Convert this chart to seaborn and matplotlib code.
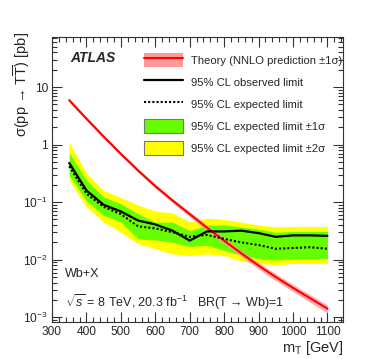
import numpy as np
import pandas as pd
import seaborn as sns
import matplotlib.pyplot as plt
from matplotlib.patches import Patch
from matplotlib.lines import Line2D
from matplotlib.ticker import MultipleLocator, LogLocator, FixedLocator, FixedFormatter, NullFormatter

# T mass points [GeV]
mass = [350, 400, 450, 500, 550, 600, 650, 700, 750, 800, 850, 900, 950, 1000, 1050, 1100]

# limits on sigma(pp -> TT) [pb]
observed = [0.48, 0.16, 0.09, 0.069, 0.048, 0.041, 0.032, 0.0215, 0.031, 0.031, 0.032, 0.029, 0.025, 0.0265, 0.0265, 0.026]
expected = [0.42, 0.14, 0.083, 0.062, 0.038, 0.035, 0.030, 0.025, 0.027, 0.023, 0.020, 0.018, 0.0155, 0.016, 0.0165, 0.0155]
green_hi = [0.72, 0.24, 0.123, 0.094, 0.063, 0.045, 0.045, 0.032, 0.040, 0.040, 0.037, 0.034, 0.030, 0.031, 0.031, 0.031]
green_lo = [0.29, 0.105, 0.059, 0.045, 0.023, 0.022, 0.020, 0.0170, 0.0178, 0.0145, 0.012, 0.0104, 0.0098, 0.0104, 0.0104, 0.0104]
yellow_hi = [1.1, 0.32, 0.16, 0.12, 0.09, 0.07, 0.065, 0.045, 0.053, 0.050, 0.045, 0.040, 0.037, 0.038, 0.038, 0.038]
yellow_lo = [0.24, 0.083, 0.045, 0.030, 0.019, 0.0155, 0.0126, 0.0118, 0.0126, 0.0118, 0.0095, 0.0086, 0.0082, 0.0086, 0.0086, 0.0086]

# NNLO theory prediction and +-1 sigma
theory = [5.9, 2.82, 1.38, 0.69, 0.355, 0.19, 0.107, 0.062, 0.036, 0.0214, 0.0129, 0.0079, 0.0050, 0.00324, 0.00214, 0.00141]
theory_hi = [6.3, 3.02, 1.48, 0.74, 0.382, 0.205, 0.116, 0.068, 0.040, 0.0238, 0.0144, 0.0089, 0.0057, 0.0037, 0.00246, 0.00163]
theory_lo = [5.5, 2.62, 1.28, 0.64, 0.328, 0.175, 0.098, 0.056, 0.032, 0.019, 0.0114, 0.0069, 0.0043, 0.0028, 0.00182, 0.00119]

df = pd.DataFrame({'mass': mass, 'observed': observed, 'expected': expected, 'theory': theory})

sns.set_style('ticks')
plt.rcParams['font.family'] = ['Liberation Sans', 'DejaVu Sans']
plt.rcParams['mathtext.fontset'] = 'custom'
plt.rcParams['mathtext.rm'] = 'Liberation Sans'
plt.rcParams['mathtext.it'] = 'Liberation Sans:italic'
plt.rcParams['mathtext.sf'] = 'Liberation Sans'

fig = plt.figure(figsize=(3.74, 3.59), dpi=100)
ax = fig.add_axes([0.139, 0.104, 0.778, 0.793])

yellow = '#ffff00'
green = '#66ff00'
pink = '#ff9a9a'

ax.fill_between(mass, yellow_lo, yellow_hi, color=yellow, lw=0)
ax.fill_between(mass, green_lo, green_hi, color=green, lw=0)
ax.fill_between(mass, theory_lo, theory_hi, color=pink, lw=0, alpha=0.85)
sns.lineplot(data=df, x='mass', y='theory', ax=ax, color='#ff0000', lw=1.5)
sns.lineplot(data=df, x='mass', y='expected', ax=ax, color='black', lw=1.5, linestyle=(0, (1, 1)))
sns.lineplot(data=df, x='mass', y='observed', ax=ax, color='black', lw=1.6)

ax.set_yscale('log')
ax.set_xlim(300, 1145)
ax.set_ylim(8.4e-4, 74)

ax.xaxis.set_major_locator(MultipleLocator(100))
ax.xaxis.set_minor_locator(MultipleLocator(20))
ax.yaxis.set_major_locator(FixedLocator([1e-3, 1e-2, 1e-1, 1, 10]))
ax.yaxis.set_major_formatter(FixedFormatter([r'10$^{-3}$', r'10$^{-2}$', r'10$^{-1}$', '1', '10']))
ax.yaxis.set_minor_locator(LogLocator(base=10, subs=np.arange(2, 10)))
ax.yaxis.set_minor_formatter(NullFormatter())
ax.tick_params(which='both', direction='in', top=True, right=True, labelsize=8.6, color='#333333', width=0.8)
ax.tick_params(which='major', length=7, pad=3)
ax.tick_params(which='minor', length=3.5)
for s in ax.spines.values():
    s.set_linewidth(0.8)
    s.set_color('#333333')

ax.set_xlabel(r'm$_{\mathrm{T}}$ [GeV]', loc='right', fontsize=10.5, labelpad=1)
ax.set_ylabel(r'σ(pp → T$\overline{\mathrm{T}}$) [pb]', loc='top', fontsize=10.5)
ax.yaxis.set_label_coords(-0.069, 1.018)

ax.text(0.062, 0.926, 'ATLAS', transform=ax.transAxes, fontsize=10, fontweight='bold', style='italic', va='center')
ax.text(0.045, 0.168, 'Wb+X', transform=ax.transAxes, fontsize=9, va='center')
ax.text(0.045, 0.07, r'$\sqrt{s}$ = 8 TeV, 20.3 fb$^{-1}$   BR(T → Wb)=1', transform=ax.transAxes, fontsize=9, va='center')

handles = [
    (Patch(facecolor=pink, edgecolor='none'), Line2D([], [], color='#ff0000', lw=1.5)),
    Line2D([], [], color='black', lw=1.6),
    Line2D([], [], color='black', lw=1.5, linestyle=(0, (1, 1))),
    Patch(facecolor=green, edgecolor='#777777', lw=0.8),
    Patch(facecolor=yellow, edgecolor='#777777', lw=0.8),
]
labels = [
    'Theory (NNLO prediction ±1σ)',
    '95% CL observed limit',
    '95% CL expected limit',
    '95% CL expected limit ±1σ',
    '95% CL expected limit ±2σ',
]
ax.legend(handles, labels, loc='upper left', bbox_to_anchor=(0.315, 0.945), frameon=False,
          fontsize=8.1, handlelength=3.5, handleheight=1.6, labelspacing=0.67,
          handletextpad=0.7, borderpad=0, borderaxespad=0)

fig.savefig('out.png', dpi=100)
